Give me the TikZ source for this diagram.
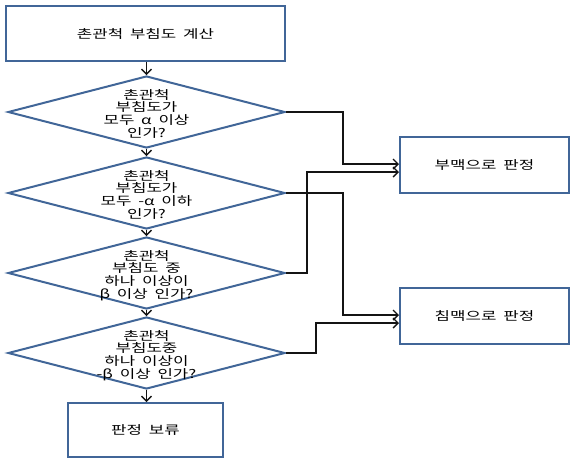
\documentclass[tikz,border=0pt]{standalone}
\usepackage{fontspec}
\setmainfont{Noto Sans CJK KR}[FakeStretch=1.4, WordSpace=1.8]
\usetikzlibrary{shapes.geometric,arrows.meta}
\definecolor{boxblue}{RGB}{65,102,152}
\definecolor{lineblk}{RGB}{20,20,20}
\newcommand{\ztext}[1]{\makebox[0pt]{\raisebox{-25pt}[0pt][0pt]{\vbox{\hsize=220pt\centering\baselineskip=12.6pt #1\par}}}}
\tikzset{
  procbox/.style={draw=boxblue, line width=2pt, rectangle, inner sep=0pt, font=\fontsize{12}{12.6}\selectfont},
  decide/.style={draw=boxblue, line width=2pt, shape=diamond, inner sep=0pt, minimum width=277pt, minimum height=72pt, font=\fontsize{12}{12.6}\selectfont},
  arr/.style={draw=lineblk, line width=1.4pt, -{Straight Barb[length=5pt,width=10pt,line width=1.4pt]}}
}
\begin{document}
\begin{tikzpicture}[x=1pt,y=-1pt]
\useasboundingbox (0,0) rectangle (571,459);
\node[procbox, minimum width=279pt, minimum height=55pt] (top) at (145.5,33.5) {\raisebox{-2pt}{촌관척 부침도 계산}};
\node[decide] (d1) at (146.5,112) {\ztext{촌관척\\부침도가\\모두 α 이상\\인가?}};
\node[decide] (d2) at (146.5,193) {\ztext{촌관척\\부침도가\\모두 -α 이하\\인가?}};
\node[decide] (d3) at (146.5,273) {\ztext{촌관척\\부침도 중\\하나 이상이\\β 이상 인가?}};
\node[decide] (d4) at (146.5,353) {\ztext{촌관척\\부침도중\\하나 이상이\\-β 이상 인가?}};
\node[procbox, minimum width=155pt, minimum height=54pt] (hold) at (145.5,430) {판정 보류};
\node[procbox, minimum width=169pt, minimum height=56pt] (b1) at (484.5,165) {부맥으로 판정};
\node[procbox, minimum width=169pt, minimum height=56pt] (b2) at (484.5,316) {침맥으로 판정};
% vertical flow
\draw[arr] (top.south -| d1.north) -- (d1.north);
\draw[arr] (d1.south) -- (d2.north);
\draw[arr] (d2.south) -- (d3.north);
\draw[arr] (d3.south) -- (d4.north);
\draw[arr] (d4.south) -- (hold.north -| d4.south);
% side branches
\draw[arr] (d1.east) -- ++(57,0) |- ([yshift=1pt]b1.west);
\draw[arr] (d2.east) -- ++(57,0) |- ([yshift=1pt]b2.west);
\draw[arr] (d3.east) -- ++(21,0) |- ([yshift=-7pt]b1.west);
\draw[arr] (d4.east) -- ++(30,0) |- ([yshift=-7pt]b2.west);
\end{tikzpicture}
\end{document}
